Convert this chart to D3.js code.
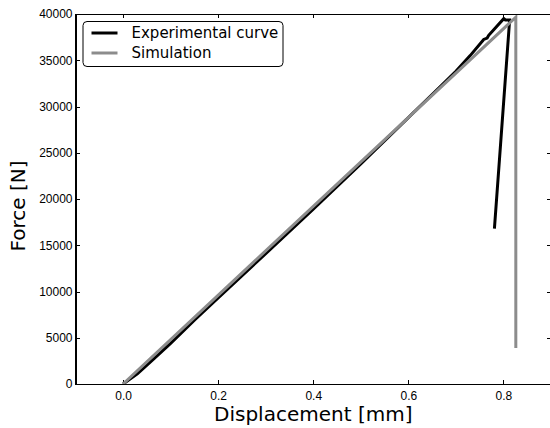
<!DOCTYPE html>
<html>
<head>
<meta charset="utf-8">
<script src="https://cdn.jsdelivr.net/npm/d3@7"></script>
<style>
  body { margin: 0; background: #fff; }
  svg { display: block; font-family: "DejaVu Sans", sans-serif; }
  .axis path, .axis line { stroke: #000; shape-rendering: crispEdges; }
  .axis text { font-size: 12px; fill: #000; }
  .line { fill: none; stroke-linejoin: miter; }
</style>
</head>
<body>
<div class="chart"></div>
<script>
// readings
var xTicks = [0.0, 0.2, 0.4, 0.6, 0.8]
var yTicks = [0, 5000, 10000, 15000, 20000, 25000, 30000, 35000, 40000]

var expDisp  = [0, 0.03, 0.06, 0.1, 0.15, 0.2, 0.3, 0.4, 0.5, 0.6, 0.65, 0.7, 0.73, 0.7585, 0.7657, 0.769, 0.8006, 0.804, 0.813, 0.781]
var expForce = [0, 1100, 2500, 4400, 6900, 9300, 14100, 18900, 23800, 28800, 31300, 33800, 35500, 37250, 37400, 37700, 39500, 39350, 39350, 16800]

var simDisp  = [0, 0.826, 0.826]
var simForce = [0, 39650, 3900]

var seriesNames = ["Experimental curve", "Simulation"]

var width = 550, height = 428
var margin = { top: 14, left: 75.5, bottom: 44, right: -1 }
var chartWidth = width - margin.left - margin.right
var chartHeight = height - margin.top - margin.bottom

var svg = d3.select(".chart").append("svg").attr("width", width).attr("height", height)
var chartLayer = svg.append("g").attr("transform", "translate(" + [margin.left, margin.top] + ")")

var x = d3.scaleLinear().domain([-0.1, 0.9]).range([0, chartWidth])
var y = d3.scaleLinear().domain([0, 40000]).range([chartHeight, 0])

function zip(xs, ys) { return xs.map(function(d, i) { return { x: d, y: ys[i] } }) }

var series = [
    { name: seriesNames[0], values: zip(expDisp, expForce), color: "#000", width: 3 },
    { name: seriesNames[1], values: zip(simDisp, simForce), color: "#8c8c8c", width: 3 }
]

// axes, ticks point inward
var axB = chartLayer.append("g").attr("class", "axis").attr("transform", "translate(0," + chartHeight + ")")
    .call(d3.axisBottom(x).tickValues(xTicks).tickFormat(d3.format(".1f")).tickSizeInner(-4).tickSizeOuter(0).tickPadding(7))
var axT = chartLayer.append("g").attr("class", "axis")
    .call(d3.axisTop(x).tickValues(xTicks).tickFormat("").tickSizeInner(-4).tickSizeOuter(0))
var axL = chartLayer.append("g").attr("class", "axis")
    .call(d3.axisLeft(y).tickValues(yTicks).tickFormat(d3.format("d")).tickSizeInner(4).tickSizeOuter(0).tickPadding(1))
var axR = chartLayer.append("g").attr("class", "axis").attr("transform", "translate(" + chartWidth + ",0)")
    .call(d3.axisRight(y).tickValues(yTicks).tickFormat("").tickSizeInner(-4).tickSizeOuter(0))

axL.selectAll(".tick line").attr("x1", 0).attr("x2", 4)
axL.selectAll(".tick text").attr("x", -3)
axB.selectAll(".tick text").attr("dy", "0.71em")

var line = d3.line().x(function(d) { return x(d.x) }).y(function(d) { return y(d.y) })

chartLayer.append("clipPath").attr("id", "clip").append("rect")
    .attr("width", chartWidth).attr("height", chartHeight)

chartLayer.append("g").attr("clip-path", "url(#clip)").selectAll(".line")
    .data(series).enter().append("path")
    .attr("class", "line")
    .attr("stroke", function(d) { return d.color })
    .attr("stroke-width", function(d) { return d.width })
    .attr("d", function(d) { return line(d.values) })

// frame
chartLayer.append("rect").attr("width", chartWidth).attr("height", chartHeight)
    .attr("fill", "none").attr("stroke", "#000").attr("shape-rendering", "crispEdges")

// legend
var legend = chartLayer.append("g").attr("transform", "translate(7,7)")
legend.append("rect").attr("x", 0.5).attr("y", 0.5).attr("width", 200).attr("height", 45)
    .attr("rx", 4).attr("fill", "#fff").attr("stroke", "#000")
var items = legend.selectAll(".item").data(series).enter().append("g")
    .attr("transform", function(d, i) { return "translate(0," + (12 + i * 20) + ")" })
items.append("line").attr("x1", 9).attr("x2", 35)
    .attr("stroke", function(d) { return d.color }).attr("stroke-width", function(d) { return d.width })
items.append("text").attr("x", 49).attr("dy", "0.35em").style("font-size", "15px")
    .text(function(d) { return d.name })

// axis titles
svg.append("text").attr("x", margin.left + x(0.4) ).attr("y", 421)
    .attr("text-anchor", "middle").style("font-size", "20px").text("Displacement [mm]")
svg.append("text").attr("transform", "translate(25,206) rotate(-90)")
    .attr("text-anchor", "middle").style("font-size", "20px").text("Force [N]")
</script>
</body>
</html>
